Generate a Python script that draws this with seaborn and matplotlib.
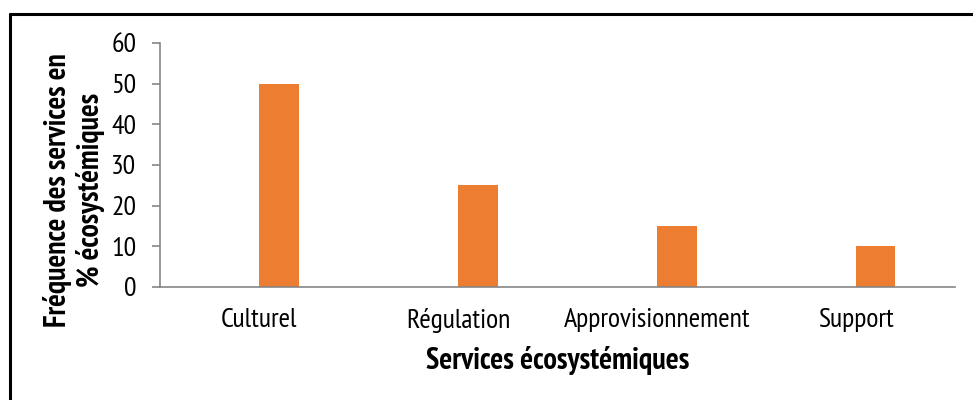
import matplotlib
matplotlib.use("Agg")
import matplotlib.pyplot as plt
from matplotlib import font_manager
from matplotlib.lines import Line2D
import seaborn as sns

# Data
categories = ["Culturel", "Régulation", "Approvisionnement", "Support"]
frequences = [50, 25, 15, 10]
serie = "Fréquence"
y_ticks = [0, 10, 20, 30, 40, 50, 60]
x_title = "Services écosystémiques"
y_title = "Fréquence des services en\n% écosystémiques"

sns.set_theme(style="white")

# Pick a narrow sans-serif that has both a regular and a bold face
weights = {}
for f in font_manager.fontManager.ttflist:
    if "[" in f.fname:
        continue
    weights.setdefault(f.name, set()).add(f.weight)
preferred = ["Liberation Sans Narrow", "Arial Narrow", "PT Sans Narrow",
             "Archivo Narrow", "Roboto Condensed", "Pragati Narrow",
             "Open Sans Condensed", "Liberation Sans"]
family = next(n for n in preferred
              if n in weights and {400, 700} <= {int(w) if str(w).isdigit() else (700 if w == "bold" else 400) for w in weights[n]}
              or n == "Liberation Sans")
plt.rcParams["font.family"] = [family, "DejaVu Sans"]

axis_grey = "#868686"
orange = "#ED7D31"

fig = plt.figure(figsize=(9.73, 4.0), dpi=100)
renderer = fig.canvas.get_renderer()


def fitted_size(text, target_px, bold=False):
    probe = fig.text(0, 0, text, fontsize=20, fontweight="bold" if bold else "normal")
    width = probe.get_window_extent(renderer).width
    probe.remove()
    return 20 * target_px / width


tick_size = fitted_size("Approvisionnement", 187)
xlab_size = fitted_size(x_title, 263, bold=True)
ylab_size = fitted_size(y_title.split("\n")[0], 274, bold=True)

ax = fig.add_axes([160 / 973, 113 / 400, 795 / 973, 244 / 400])

# Two dodge slots per category, the first left empty, so each bar sits
# just to the right of its category centre
sns.barplot(
    x=categories,
    y=frequences,
    hue=[serie] * len(categories),
    hue_order=["", serie],
    palette={"": "white", serie: orange},
    width=0.4,
    dodge=True,
    legend=False,
    saturation=1,
    linewidth=0,
    ax=ax,
)

ax.set_xlim(-0.5, len(categories) - 0.5)
ax.set_ylim(0, 60)
ax.set_yticks(y_ticks)

for side in ["top", "right"]:
    ax.spines[side].set_visible(False)
for side in ["left", "bottom"]:
    ax.spines[side].set_color(axis_grey)
    ax.spines[side].set_linewidth(1.2)

ax.tick_params(axis="y", which="major", direction="out", length=6, width=1.2,
               color=axis_grey, pad=11, labelsize=tick_size, labelcolor="black", left=True)
ax.tick_params(axis="x", length=0, pad=15, labelsize=tick_size, labelcolor="black")

ax.set_xlabel(x_title, fontsize=xlab_size, fontweight="bold", color="black")
ax.xaxis.set_label_coords(0.5, -0.30)
ax.xaxis.label.set_va("center")
ax.set_ylabel("")

fig.text(74 / 973, 210 / 400, y_title,
         rotation=90, ha="center", va="center", multialignment="center",
         fontsize=ylab_size, fontweight="bold", color="black", linespacing=1.15)

# Frame around the chart area
fig.add_artist(Line2D([10 / 973, 1.0], [1 - 14 / 400, 1 - 14 / 400],
                      transform=fig.transFigure, color="black", linewidth=2.2))
fig.add_artist(Line2D([10 / 973, 10 / 973], [0.0, 1 - 14 / 400],
                      transform=fig.transFigure, color="black", linewidth=2.2))

fig.savefig("out.png", dpi=100, facecolor="white")
